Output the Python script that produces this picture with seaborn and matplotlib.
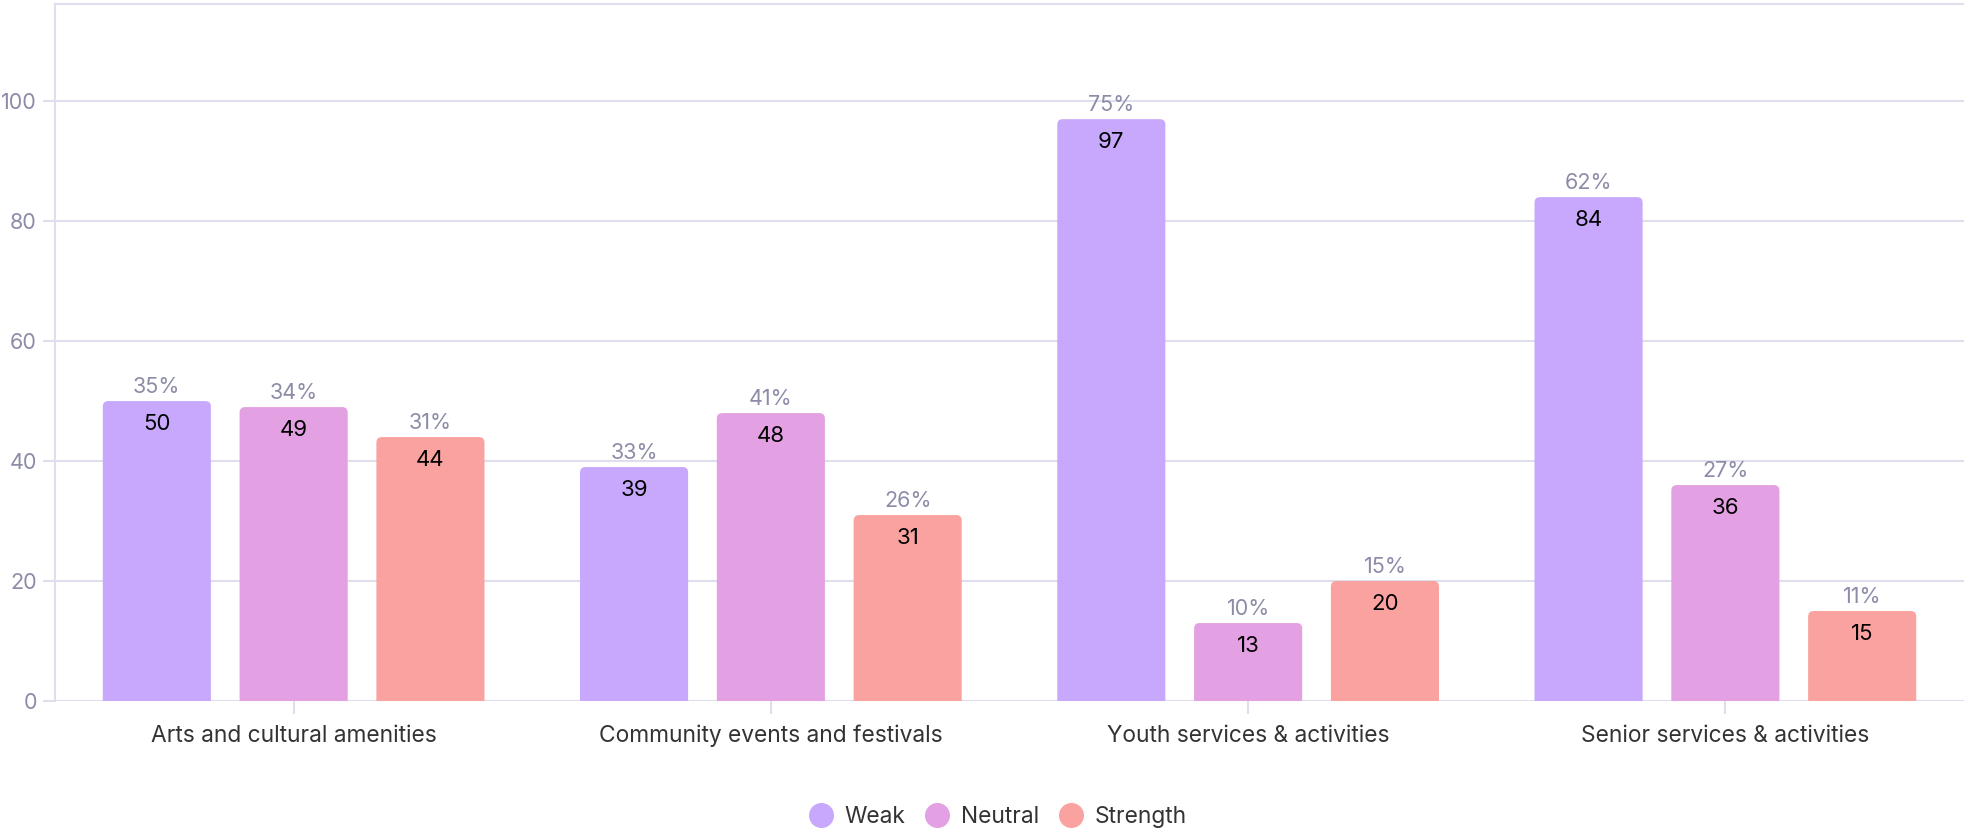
import matplotlib
matplotlib.use("Agg")
import matplotlib.pyplot as plt
import seaborn as sns
import pandas as pd
from matplotlib.lines import Line2D
from matplotlib.patches import FancyBboxPatch

categories = ["Arts and cultural amenities", "Community events and festivals",
              "Youth services & activities", "Senior services & activities"]
series = ["Weak", "Neutral", "Strength"]
weak = [50, 39, 97, 84]
neutral = [49, 48, 13, 36]
strength = [44, 31, 20, 15]
weak_pct = ["35%", "33%", "75%", "62%"]
neutral_pct = ["34%", "41%", "10%", "27%"]
strength_pct = ["31%", "26%", "15%", "11%"]
yticks = [0, 20, 40, 60, 80, 100]

colors = ["#C7A8FC", "#E3A0E2", "#FAA2A0"]
grid_c = "#DEDEEC"
tick_c = "#8C8CA8"
text_c = "#333333"

sns.set_theme(style="white")
plt.rcParams["font.family"] = ["Inter", "DejaVu Sans"]

rows = []
for s, vals in zip(series, [weak, neutral, strength]):
    for c, v in zip(categories, vals):
        rows.append({"category": c, "series": s, "value": v})
df = pd.DataFrame(rows)

W, H = 1964, 834
fig = plt.figure(figsize=(W/100, H/100), dpi=100)
ax_l, ax_t, ax_b = 55, 4, 701
ax = fig.add_axes([ax_l/W, 1 - ax_b/H, 1 - ax_l/W, (ax_b - ax_t)/H])

sns.barplot(data=df, x="category", y="value", hue="series", order=categories,
            hue_order=series, palette=colors, width=0.86, gap=0.21,
            saturation=1, ax=ax, legend=False, linewidth=0, edgecolor="none")

ax.set_xlim(-0.5, 3.5)
ax.set_ylim(0, 116.2)
ax.set_yticks(yticks)
ax.set_xlabel("")
ax.set_ylabel("")
ax.grid(axis="y", color=grid_c, linewidth=1.5)
ax.set_axisbelow(True)
for side in ["right", "bottom"]:
    ax.spines[side].set_visible(False)
for side in ["left", "top"]:
    ax.spines[side].set_color(grid_c)
    ax.spines[side].set_linewidth(1.5)
ax.axhline(0, color=grid_c, linewidth=2, zorder=0.5)

ax.tick_params(axis="y", colors=grid_c, length=9, width=1.5, labelsize=15.5,
               labelcolor=tick_c, pad=4, left=True)
ax.tick_params(axis="x", colors=grid_c, length=9, width=1.5, labelsize=16.4,
               labelcolor=text_c, pad=8, bottom=True)

pct_lists = [weak_pct, neutral_pct, strength_pct]
for cont, pcts in zip(ax.containers, pct_lists):
    ax.bar_label(cont, labels=[str(int(round(b.get_height()))) for b in cont],
                 padding=-23.5, fontsize=16, color="black")
    ax.bar_label(cont, labels=pcts, padding=3, fontsize=15.5, color=tick_c)

# rounded top corners
px_per_x = (W - ax_l) / 4.0
px_per_y = (ax_b - ax_t) / 116.2
aspect = px_per_x / px_per_y
r = 5.5 / px_per_x
for cont in ax.containers:
    for b in cont:
        x, y = b.get_x(), b.get_y()
        w, h = b.get_width(), b.get_height()
        fb = FancyBboxPatch((x, y - 3), w, h + 3,
                            boxstyle=f"round,pad=0,rounding_size={r}",
                            mutation_aspect=aspect, facecolor=b.get_facecolor(),
                            edgecolor="none", linewidth=0, zorder=b.get_zorder())
        ax.add_patch(fb)
        b.set_visible(False)

handles = [Line2D([0], [0], marker="o", linestyle="", markersize=17,
                  markerfacecolor=c, markeredgecolor=c) for c in colors]
fig.legend(handles, series, loc="center", bbox_to_anchor=(998/W, 1 - 817/H),
           ncol=3, frameon=False, fontsize=16.4, labelcolor=text_c,
           handlelength=1.0, handletextpad=0.52, columnspacing=0.92,
           borderpad=0, borderaxespad=0)

fig.savefig("out.png", dpi=100)
